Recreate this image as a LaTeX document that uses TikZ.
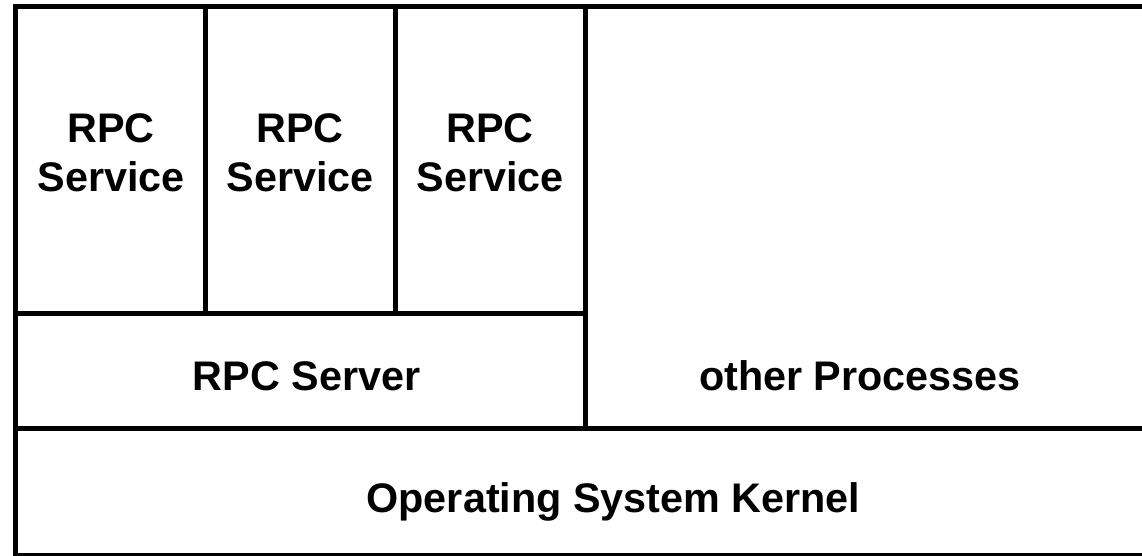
\documentclass[tikz,border=0pt]{standalone}
\usepackage{fontspec}
\setmainfont{Liberation Sans}
\usetikzlibrary{positioning}
\definecolor{framecolor}{RGB}{0,0,0}

\begin{document}
\begin{tikzpicture}[
    x=0.75pt, y=-0.75pt,
    wall/.style={framecolor, line width=3.75pt},
    layerlabel/.style={font=\fontsize{31}{36.75}\selectfont\bfseries, inner sep=0pt, align=center},
]
\useasboundingbox (0,0) rectangle (1142,556);

% === MARCO EXTERIOR ===
\draw[wall] (15,6.5) rectangle (1150,555.5);

% === SEPARADORES DE CAPAS ===
\draw[wall] (15,428) -- (1150,428);
\draw[wall] (15,313.5) -- (585,313.5);
\draw[wall] (585,6.5) -- (585,428);

% Columnas de servicios
\foreach \x in {205,395} {
    \draw[wall] (\x,6.5) -- (\x,313.5);
}

% === ETIQUETAS ===
\node[layerlabel] (svcA) at (111,153) {RPC\\Service};
\node[layerlabel] (svcB) at (300,153) {RPC\\Service};
\node[layerlabel] (svcC) at (490,153) {RPC\\Service};

\node[layerlabel, anchor=base] (server) at (306.5,390) {RPC Server};
\node[layerlabel, anchor=base] (others) at (860,390) {other Processes};
\node[layerlabel, anchor=base] (kernel) at (613.5,512) {Operating System Kernel};

\end{tikzpicture}
\end{document}
